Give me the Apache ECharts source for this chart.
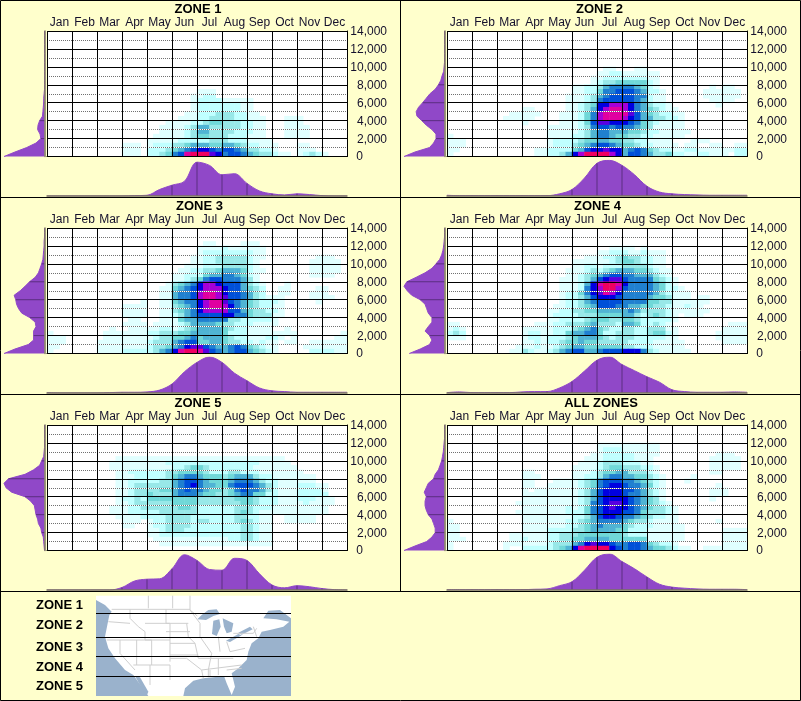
<!DOCTYPE html>
<html><head><meta charset="utf-8">
<style>html,body{margin:0;padding:0;background:#ffffcc}#c{width:801px;height:701px}</style>
<script src="https://cdn.jsdelivr.net/npm/echarts@6/dist/echarts.min.js"></script>
</head><body><div id="c"></div>
<script>
const months=['Jan','Feb','Mar','Apr','May','Jun','Jul','Aug','Sep','Oct','Nov','Dec'];
const altLabels=['0','2,000','4,000','6,000','8,000','10,000','12,000','14,000'];
const zoneNames=['ZONE 1','ZONE 2','ZONE 3','ZONE 4','ZONE 5','ALL ZONES'];
const legendNames=['ZONE 1','ZONE 2','ZONE 3','ZONE 4','ZONE 5'];
// Heat level per cell: rows run from 14,000 ft down to 0, 4 cells per month, '.' is empty
const levelColors=['#e0ffff','#c0ffff','#98e8e8','#70d8d8','#50b4d4','#2080d0','#0050d8','#0000e0','#5800e0','#a400d8','#e000a0','#f00060'];
const zone1Cells=["","","","","","","","","","","","","",
".... .... .... .... .... .... 111. .... .... .... .... ....",
".... .... .... .... .... ...1 122. .... .... .... .... ....",
".... .... .... .... .... ...1 2222 1111 1... .... .... ....",
".... .... .... .... .... ...1 2222 2221 1... .... .... ....",
".... .... .... .... .... ...1 2222 2221 1... .... .... ....",
".... .... .... .... .... ..11 2223 3322 11.. .... .... ....",
".... .... .... .... .... .111 2233 3322 111. ..11 1... ....",
".... .... .... .... ...1 1112 2344 3332 211. ..11 1... ....",
".... .... .... .... ..11 1123 5533 3332 211. ..11 11.. ....",
".... .... .... .... ..11 1123 5533 3322 211. ..11 11.. ....",
".... .... .... .... .111 1123 4433 3222 111. ..11 11.. ....",
".... .... .... .... 1111 1222 2233 3222 1111 .... .... ....",
".... .... .... 111. 1222 3345 5544 5543 2211 1... 11.. ....",
".... .... .... 111. 2223 4567 8876 7765 3322 1... 111. ....",
".... .... .... 111. 2234 67bc cc98 6776 5433 211. 1232 1..."];
const zone2Cells=["","","","","","","","",
".... .... .... .... .... .... .11. ..11 .... .... .... ....",
".... .... .... .... .... .... 1122 1111 11.. .... .... ....",
".... .... .... .... .... ...1 1222 2222 11.. .... .... ....",
".... .... .... .... .... ...1 2334 4444 21.. .... .... ....",
".... .... .... .... .... 1122 3566 6654 21.. .... ..1. 11..",
".... .... .... .... .... 1122 4667 7765 221. .... .111 111.",
".... .... .... .... ...1 1123 5677 7766 211. .... .111 111.",
".... .... .... .... ...1 1123 6777 7765 211. .... ..11 11..",
".... .... .... .... ...1 1234 88aa a865 3221 .... ...1 ....",
".... .... .... 11.. ...1 1235 8abb a865 4321 1... .... ....",
".... .... ..11 111. ..11 1246 abbb b975 4322 11.. .... ....",
".... .... .111 11.. ..11 1246 abbb a875 5332 21.. .... ....",
".... .... .... 1... ..11 1247 9988 8764 3211 11.. .... ....",
".... .... .... .... 1111 1236 7767 6654 3111 11.. .... ....",
".... .... .... .... 1111 1235 6655 5443 2211 111. .... ....",
"1... .... .... .... 1111 2235 6654 4332 2111 11.. .... ....",
"111. .... .... .... 1222 2344 5544 3322 1111 ...1 11.. ....",
"111. .... .... .... 1222 3456 7765 4432 2111 1.11 ..11 ..11",
"11.. .... .... ..11 2222 4578 8988 5676 4322 1122 1111 1122",
"1... .... .... ..11 2235 8acc cca8 5776 5334 2211 2211 1.22"];
const zone3Cells=["","","",
".... .... .... .... .... .... .11. ...1 11.. .... .... ....",
".... .... .... .... .... .... 1111 2111 111. .... .... ....",
".... .... .... .... .... .... 1222 2222 211. .... .... ....",
".... .... .... .... .... ...1 1223 3333 211. .... ...1 11..",
".... .... .... .... .... ...1 1223 3333 21.. .... ..11 111.",
".... .... .... .... .... ..11 1222 3333 21.. .... ..11 111.",
".... .... .... .... .... .112 2334 5554 211. .... ..11 111.",
".... .... .... .... .... 1122 2455 6654 21.. .... ..11 11..",
".... .... .... .... .... 1123 4677 6665 31.. .... .... ....",
".... .... .... .... ...1 3456 8aa8 7775 321. ..1. .... ....",
".... .... .... .... ..11 4567 8aaa 8775 432. .11. ...1 1...",
".... .... .... .... ..11 5667 abba 8776 532. .11. ..11 1...",
".... .... .... .... ..11 5667 abba 9776 5321 11.. ..11 11..",
".... .... .... ...1 ..11 4566 8abb 9765 4322 21.. ...1 ....",
".... .... .... 1111 ..11 3456 8abb a865 4322 11.. .... ....",
".... .... .... 1111 ..11 3456 8aaa a775 4332 21.. .... ....",
".... .... .... 1111 ..11 2356 7777 8866 4333 11.. .... ....",
".... .... .... .11. ..11 1455 6666 6332 2222 1... .... ....",
".... .... .... 1111 .111 1235 5554 3322 2111 1... .... ....",
".... .... ..1. .111 1122 1234 5555 4322 1111 ..1. .... ....",
"1... .... .111 1111 2233 3445 5555 4222 1111 1111 .... ...1",
"111. .... .111 1111 1233 4456 4555 4322 1112 21.1 .... ..11",
"111. .... 1111 1111 2333 5677 4455 4332 2121 1.11 ..11 1111",
"11.. .... 1111 1111 2334 5689 9765 5676 4321 1... .111 1111",
"1... .... 1111 2222 2356 8bcc b976 5677 5432 1... ..22 2211"];
const zone4Cells=["","","","",
".... .... .... .... .... .... ..11 11.1 .... .... .... ....",
".... .... .... .... .... .... 1122 2112 111. .... .... ....",
".... .... .... .... .... ..11 1223 4332 211. .... .... ....",
".... .... .... .... .... 1111 1123 4432 211. .... .... ....",
".... .... .... .... .... 1122 1222 3333 211. .... .... ....",
".... .... .... .... ...1 1123 2345 5544 3211 .... .... ....",
".... .... .... .... ...1 1234 5677 6655 5321 .... .... ....",
".... .... .... .... ..11 1235 7899 7666 6432 1... .... ....",
".... .... .... .... ..11 1258 bccb 8666 6542 1... .... ....",
".... .... .... .... ..11 1268 acca 7666 6542 21.. .... ....",
".... .... .... .... ..12 2468 9ba8 6666 6532 111. .... ....",
".... .... .... .... ..12 2357 8887 6666 5443 111. 11.. ....",
".... .... .... .... ..12 2356 7777 6666 4433 1111 11.. ....",
".... .... .... .... .112 2345 7776 6554 4332 1121 1... ....",
".... .... .... .... 1122 3344 5555 5653 3332 1111 11.. ....",
".... .... .... .... 1222 2333 4444 5532 3432 1.11 1... ....",
".... .... .... .... 1122 2234 4433 4432 2222 1... .... ....",
"11.. .... .... ..11 1223 3345 3332 5542 2321 .... .... .111",
"121. .... .... 1111 1222 3456 4322 3322 3331 1... .... 1111",
"232. .... .... 1221 1224 5566 4223 3322 3442 1... ...1 1111",
"111. .... .... 1221 2223 4555 4323 3322 2221 1... ...1 1111",
".... .... .... 1121 2234 4544 3333 3222 2111 11.. .... 1111",
".... .... ...1 1121 1234 5544 4444 3322 2111 11.. .... ....",
".... .... ..11 3211 2356 7755 6777 8886 3211 111. .... ...."];
const zone5Cells=["","","","","","","",
".... .... ...1 1111 1111 1111 1111 1111 1111 11.. .... ....",
".... .... ..11 1111 1112 2222 2222 2222 2211 111. .... ....",
".... .... ..11 1111 1111 2234 4322 2222 2111 1111 .... ....",
".... .... ...1 1222 2223 3444 4322 2332 2211 1111 1... ....",
".... .... ...1 1122 2223 4566 5444 3455 5322 1111 111. ....",
".... .... ...1 1222 2233 5677 6544 4566 6532 2111 111. ....",
".... .... ...1 1233 3333 5678 6554 4677 7653 2111 2221 1...",
".... .... ...1 1233 3344 5676 6544 3467 6653 2111 2222 1...",
".... .... ...1 1233 4333 5666 5443 3456 6442 2111 2222 2...",
".... .... ...1 2232 4444 4444 3333 3344 4322 2111 2221 11..",
".... .... ...1 1233 3333 4444 3333 3334 4322 2111 1211 11..",
".... .... ..11 1223 3333 3443 2222 2233 3222 1111 1111 1...",
".... .... ..11 1222 2233 3333 2222 2234 3211 1111 1111 1...",
".... .... ...1 1112 2223 3332 2222 2233 2211 ..11 111. ....",
".... .... .... 111. 1223 3332 3322 2234 3211 ..11 111. ....",
".... .... .... 11.. 1223 3332 2222 2223 3211 .... .... ....",
".... .... .... .... 1123 3322 2222 2223 3211 .... .... ....",
".... .... .... .... 1122 2222 2222 2223 3211 .... .... ....",
".... .... .... .... .111 1111 1111 1223 3211 .... .... ....",
".... .... .... .... ..11 1111 1111 1111 1111 .... .... ....",
""];
const zone6Cells=["","","","",
".... .... .... .... .... .... 1111 1111 11.. .... .... ....",
".... .... .... .... .... .... 1222 1111 11.. .... .... ....",
".... .... .... .... .... ...1 1222 2211 11.. .... ...1 11..",
".... .... .... .... .... ..11 1222 2211 1... .... ..11 111.",
".... .... .... .... .... .111 2333 2221 1... .... ..11 111.",
".... .... .... .... .... 1111 2344 3332 21.. .... ..11 111.",
".... .... .... 11.. .... 1112 3445 5333 21.. .... ..11 ....",
".... .... .... 111. .... 1122 3566 5544 321. ...1 .... ....",
".... .... .... 11.. .111 1234 6777 6654 321. ..1. .... ....",
".... .... .... 11.. 1111 1234 6788 7665 421. .... ...1 ....",
".... .... .... 1.11 1111 1235 7888 7765 321. .... ..11 1...",
".... .... .... 1111 1111 1235 7888 7665 321. .... ..11 1...",
".... .... .... 1111 1111 1235 7888 8765 431. .... ..1. ....",
".... .... ...1 1111 1111 1236 7899 8765 4321 .... .... ....",
".... .... .... 1111 1112 1246 7898 8765 4332 1... .... ....",
".... .... ...1 1111 1112 2246 7888 7764 3332 1... .... ....",
".... .... .... 1111 1111 2235 7887 6654 3221 1... .... ....",
"1... .... .... 1111 1112 2345 6666 5433 2111 1... ...1 ....",
"11.. .... .... 1111 1112 2345 6555 4322 2111 11.. .... ....",
"11.. .... .... 1111 2222 3345 5554 4222 1111 11.. .... 1111",
"11.. .... ..11 1111 2233 3444 4444 3222 1111 11.. .... 1111",
"111. .... ..11 2111 2233 4455 5544 4444 1111 11.. .... 1111",
"1... .... .111 1111 2333 5689 8876 6776 4322 1... .... 1111",
"1... .... .1.. 2222 2345 8bcc cc87 6776 5443 211. .111 1111"];
// Month profile: half-month samples Jan 1 .. Dec 31 (share of the peak)
const zone1Month=[0,0,0,0,0,0,0,1,2,18,30,41,94,85,59,62,35,14,6,3,6,4,1,0,0];
const zone2Month=[2,1,1,1,1,1,1,1,1,6,18,50,91,99,85,59,27,11,6,4,3,2,2,2,2];
const zone3Month=[1,0,0,0,0,1,2,2,3,8,25,59,85,100,85,55,34,14,6,4,2,2,2,2,2];
const zone4Month=[1,3,1,1,1,1,3,4,4,14,32,61,91,100,79,62,45,30,9,4,2,2,2,3,2];
const zone5Month=[0,0,0,0,0,0,7,25,30,31,59,98,82,57,55,88,82,45,14,6,12,9,4,1,0];
const zone6Month=[1,1,1,1,1,1,1,2,3,12,23,55,91,100,79,59,36,16,8,5,3,2,2,2,1];
// Elevation profile: samples every 500 ft from 0 to 14,000 (share of the peak)
const zone1Alt=[100,73,44,21,9,11,17,16,12,5,4,3,2,2,1,0,0,0,0,0,0,0,0,0,0,0,0,0,0];
const zone2Alt=[100,73,37,27,21,21,31,45,56,68,70,64,54,45,36,23,15,9,6,2,1,0,0,0,0,0,0,0,0];
const zone3Alt=[100,73,40,27,27,27,21,23,36,56,64,69,71,75,60,48,37,23,15,11,7,4,3,2,1,1,0,0,0];
const zone4Alt=[87,60,37,31,37,48,40,31,31,40,44,48,60,81,92,100,93,70,48,31,21,12,7,4,2,1,0,0,0];
const zone5Alt=[0,1,2,3,7,9,15,17,21,23,25,34,48,81,95,100,89,48,27,12,7,2,1,0,0,0,0,0,0];
const zone6Alt=[100,73,44,31,23,23,27,31,40,45,48,48,45,50,45,40,27,23,15,11,7,5,3,2,1,0,0,0,0];

const allCells=[zone1Cells,zone2Cells,zone3Cells,zone4Cells,zone5Cells,zone6Cells];
const allMonth=[zone1Month,zone2Month,zone3Month,zone4Month,zone5Month,zone6Month];
const allAlt=[zone1Alt,zone2Alt,zone3Alt,zone4Alt,zone5Alt,zone6Alt];

const FONT='"Liberation Sans",Arial,sans-serif', TXT='#14102c', PURPLE='#9048c8', TICK='#5a2e80', BASE='#7a7460';
const origins=[[0,0],[400,0],[0,197],[400,197],[0,394],[400,394]];
const titleX=[198,199.5,199.5,197.5,198,201];
const cellCols=Array.from({length:48},(_,i)=>i), cellRows=Array.from({length:28},(_,i)=>i);
const monthCats=Array.from({length:25},(_,i)=>i), altCats=Array.from({length:29},(_,i)=>i*500);
const levelChars='123456789abc';
function parseCells(rows){
  const out=[];
  rows.forEach((s,r)=>{[...s.replace(/ /g,'')].forEach((c,col)=>{
    const v=levelChars.indexOf(c)+1; if(v>0) out.push([col,27-r,v]);
  });});
  return out;
}
const grid=[],xAxis=[],yAxis=[],series=[],title=[],heatIdx=[];
origins.forEach((o,i)=>{
  const [ox,oy]=o;
  title.push({text:zoneNames[i],left:ox+titleX[i],top:oy+3,padding:0,textAlign:'center',
    textStyle:{fontFamily:FONT,fontSize:13,fontWeight:'bold',color:'#000'}});
  // heat grid
  let g=grid.length;
  grid.push({left:ox+47,top:oy+31,width:300,height:125.5,show:true,backgroundColor:'#fff',borderWidth:0,containLabel:false});
  const xCell=xAxis.length;
  xAxis.push({type:'category',gridIndex:g,data:cellCols,show:false});
  xAxis.push({type:'category',gridIndex:g,data:months,position:'top',z:6,boundaryGap:true,
    axisLine:{show:true,lineStyle:{color:'#000',width:1}},axisTick:{show:false},
    axisLabel:{interval:0,margin:2,fontFamily:FONT,fontSize:12,color:TXT},
    splitLine:{show:true,interval:0,lineStyle:{color:'#000',width:1}}});
  const yCell=yAxis.length;
  yAxis.push({type:'category',gridIndex:g,data:cellRows,show:false});
  yAxis.push({type:'value',gridIndex:g,position:'right',min:0,max:14000,interval:2000,z:6,
    axisLine:{show:true,onZero:false,lineStyle:{color:'#000',width:1}},axisTick:{show:false},
    axisLabel:{margin:40,align:'right',padding:[2,0,0,0],fontFamily:FONT,fontSize:12,color:TXT,
      formatter:v=>v===0?'{z|'+altLabels[0]+'}':altLabels[v/2000],
      rich:{z:{padding:[0,24,2,0],fontFamily:FONT,fontSize:12,color:TXT}}},
    splitLine:{show:true,lineStyle:{color:'#000',width:1}},
    minorTick:{show:false,splitNumber:2},
    minorSplitLine:{show:true,lineStyle:{color:'#707070',width:1,type:[1,1]}}});
  yAxis.push({type:'value',gridIndex:g,position:'right',min:0,max:14000,interval:2000,z:5,
    axisLine:{show:false},axisTick:{show:false},axisLabel:{show:false},splitLine:{show:false},
    minorTick:{show:false,splitNumber:2},
    minorSplitLine:{show:true,lineStyle:{color:'#fff',width:1}}});
  heatIdx.push(series.length);
  series.push({type:'heatmap',xAxisIndex:xCell,yAxisIndex:yCell,data:parseCells(allCells[i]),
    progressive:0,silent:true,itemStyle:{borderWidth:0},emphasis:{disabled:true}});
  // elevation margin
  g=grid.length;
  grid.push({left:ox+4,top:oy+31,width:40.5,height:125.5});
  const xl=xAxis.length,yl=yAxis.length;
  xAxis.push({type:'value',gridIndex:g,min:0,max:100,inverse:true,show:false});
  yAxis.push({type:'category',gridIndex:g,data:altCats,boundaryGap:false,position:'right',z:6,
    axisLine:{show:true,onZero:false,lineStyle:{color:BASE,width:1.5}},axisTick:{show:false},axisLabel:{show:false},splitLine:{show:false}});
  series.push({type:'line',xAxisIndex:xl,yAxisIndex:yl,data:allAlt[i],symbol:'none',silent:true,z:2,
    lineStyle:{color:PURPLE,width:1},areaStyle:{color:PURPLE,opacity:1}});
  series.push({type:'bar',xAxisIndex:xl,yAxisIndex:yl,barWidth:1,silent:true,z:4,itemStyle:{color:TICK},
    data:allAlt[i].map((v,k)=>(k>0&&k%4===0&&k<28)?v:'-')});
  // month margin
  g=grid.length;
  grid.push({left:ox+47,top:oy+160,width:300,height:36});
  const xb=xAxis.length,yb=yAxis.length;
  xAxis.push({type:'category',gridIndex:g,data:monthCats,boundaryGap:false,z:6,
    axisLine:{show:true,onZero:false,lineStyle:{color:BASE,width:1.5}},axisTick:{show:false},axisLabel:{show:false},splitLine:{show:false}});
  yAxis.push({type:'value',gridIndex:g,min:0,max:100,show:false});
  series.push({type:'line',xAxisIndex:xb,yAxisIndex:yb,data:allMonth[i],symbol:'none',smooth:0.35,silent:true,z:2,
    lineStyle:{color:PURPLE,width:1},areaStyle:{color:PURPLE,opacity:1}});
  series.push({type:'bar',xAxisIndex:xb,yAxisIndex:yb,barWidth:1,silent:true,z:4,itemStyle:{color:TICK},
    data:allMonth[i].map((v,k)=>(k>0&&k%2===0&&k<24)?v:'-')});
});

// Frame, legend and the small location map
const line=(x1,y1,x2,y2,w)=>({type:'line',shape:{x1,y1,x2,y2},style:{stroke:'#000',lineWidth:w||1},z:20});
const M=p=>p.map(q=>[q[0]/3,590+q[1]/3]);
const landShape=[[288,17],[873,17],[873,85],[840,60],[805,62],[790,85],[830,88],[868,95],[850,110],[810,120],[785,125],[775,145],[755,160],[745,185],[740,210],[715,235],[695,250],[705,290],[695,315],[680,280],[672,258],[640,262],[610,265],[580,272],[555,295],[550,318],[445,318],[400,255],[375,240],[345,205],[325,175],[315,140],[322,105],[328,75],[335,65],[315,45],[288,30]];
const waterShapes=[
 [[405,258],[420,262],[445,305],[440,318],[428,300]],
 [[592,88],[605,75],[625,60],[650,58],[660,72],[640,78],[618,90]],
 [[640,92],[658,88],[662,110],[650,138],[636,132]],
 [[668,85],[700,100],[695,125],[680,130],[672,110]],
 [[678,152],[715,132],[725,136],[690,156]],
 [[715,128],[750,110],[758,118],[725,134]]];
const borderLines=[
 [[445,17],[445,55]],[[518,17],[518,55]],[[570,17],[570,60],[592,78]],[[335,58],[570,58]],
 [[325,95],[390,100]],[[390,58],[390,85],[415,110],[435,125],[435,150]],[[320,150],[455,150]],
 [[410,150],[410,225]],[[360,150],[360,190],[405,240]],[[455,150],[455,225]],
 [[435,100],[510,100],[510,215]],[[435,150],[510,150]],[[450,225],[510,225],[510,270]],[[400,225],[450,225],[450,285]],
 [[498,58],[498,100]],[[498,100],[565,100]],[[498,125],[570,125]],[[510,160],[585,160]],[[510,195],[595,195]],
 [[510,205],[560,205],[605,240],[610,265]],[[570,60],[600,100],[600,140],[635,190],[625,240],[625,262]],
 [[560,100],[565,140],[585,160],[595,205]],[[595,205],[700,205]],[[605,240],[725,225]],[[655,205],[655,255]],[[630,240],[630,262]],
 [[655,140],[660,185]],[[680,155],[690,185],[735,175]],[[700,130],[760,130],[770,115]],[[760,110],[770,140]],[[680,240],[725,235]]];
const graphicEls=[
 {type:'rect',shape:{x:0.5,y:0.5,width:800,height:700},style:{fill:'none',stroke:'#000',lineWidth:1},z:20},
 line(0,197.5,801,197.5),line(0,394.5,801,394.5),line(0,591.5,801,591.5),line(400.5,0,400.5,592),
 {type:'rect',shape:{x:96,y:596,width:195,height:100},style:{fill:'#9ab2cc'},z:10},
 {type:'polygon',shape:{points:M(landShape)},style:{fill:'#fff'},z:11},
 ...waterShapes.map(p=>({type:'polygon',shape:{points:M(p)},style:{fill:'#9ab2cc'},z:12})),
 ...borderLines.map(p=>({type:'polyline',shape:{points:M(p)},style:{stroke:'#cfcfcf',lineWidth:1,fill:'none'},z:13})),
 ...[613.5,637.5,656.5,676.5].map(y=>({type:'line',shape:{x1:96,y1:y,x2:291,y2:y},style:{stroke:'#000',lineWidth:1},z:14})),
 ...legendNames.map((t,k)=>({type:'text',x:36,y:[605,625,647,667,686][k],
   style:{text:t,fontFamily:FONT,fontSize:13,fontWeight:'bold',fill:'#000',verticalAlign:'middle'},z:15}))
];
const chart=echarts.init(document.getElementById('c'),null,{renderer:'canvas'});
chart.setOption({backgroundColor:'#ffffcc',animation:false,title,grid,xAxis,yAxis,series,
  visualMap:{type:'piecewise',show:false,dimension:2,seriesIndex:heatIdx,
    pieces:levelColors.map((color,k)=>({value:k+1,color}))},
  graphic:{elements:graphicEls}});
</script></body></html>
